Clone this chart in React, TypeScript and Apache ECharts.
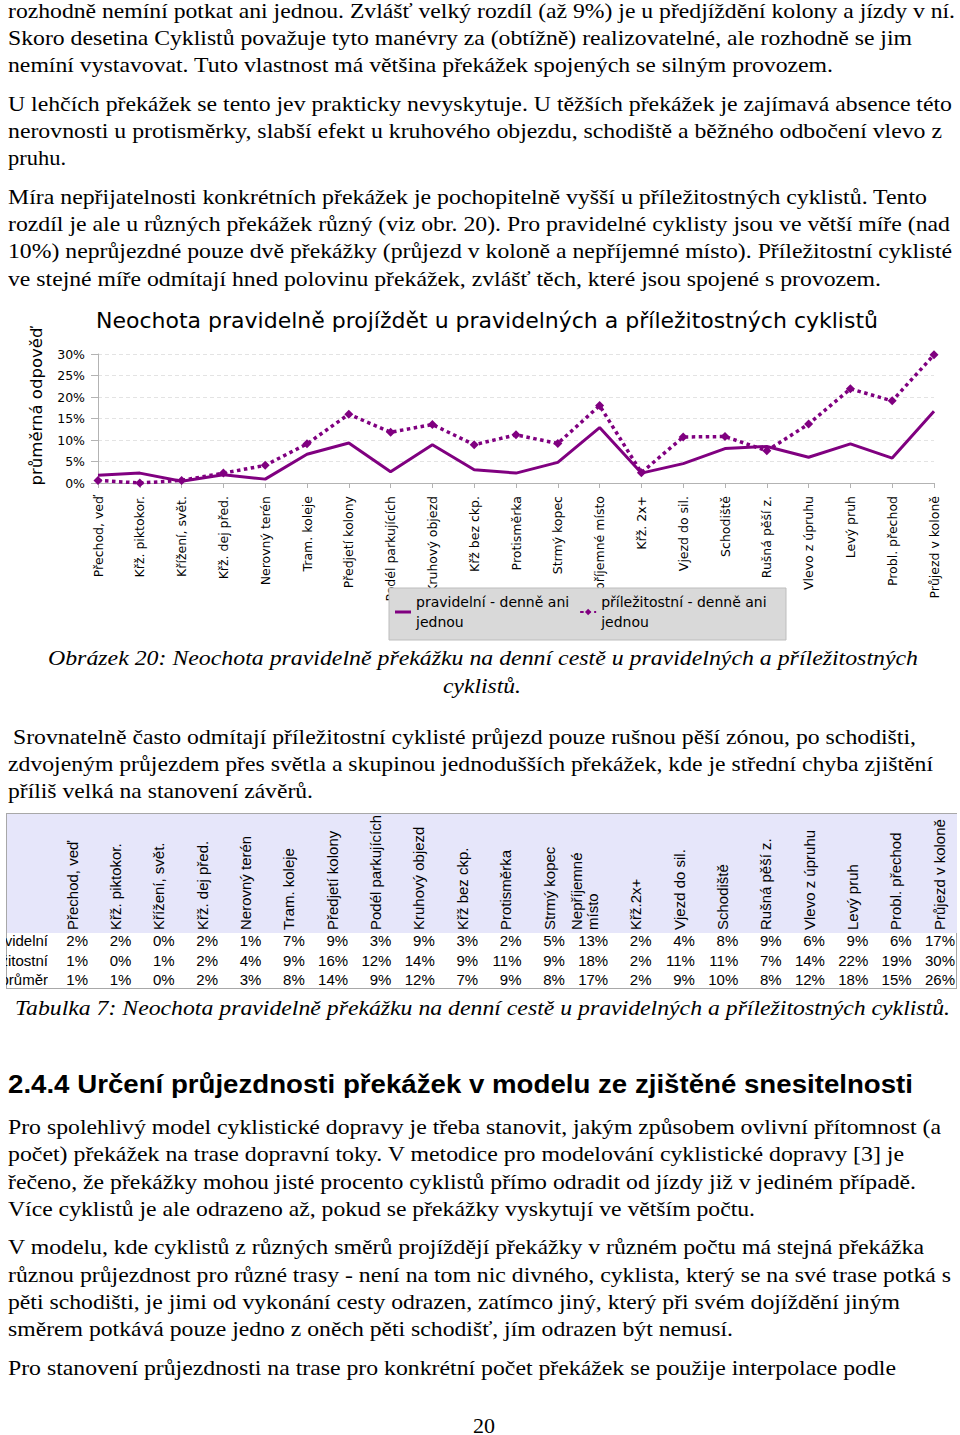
import React, { useEffect, useLayoutEffect, useRef } from "react";
import * as echarts from "echarts";

// ---------- DATA ----------
const chartTitle = "Neochota pravidelně projíždět u pravidelných a příležitostných cyklistů";
const yAxisName = "průměrná odpověď";
const categories = [
  "Přechod, veď", "Křž. piktokor.", "Křížení, svět.", "Křž. dej před.", "Nerovný terén",
  "Tram. koleje", "Předjetí kolony", "Podél parkujících", "Kruhový objezd", "Křž bez ckp.",
  "Protisměrka", "Strmý kopec", "Nepříjemné místo", "Křž. 2x+", "Vjezd do sil.",
  "Schodiště", "Rušná pěší z.", "Vlevo z úpruhu", "Levý pruh", "Probl. přechod", "Průjezd v koloně",
];
const seriesRegularName = "pravidelní - denně ani jednou";
const seriesOccasionalName = "příležitostní - denně ani jednou";
// values in %
const regularValues = [1.8, 2.3, 0.4, 1.9, 0.9, 6.7, 9.3, 2.6, 8.9, 3.1, 2.3, 4.8, 12.9, 2.3, 4.5, 8.0, 8.5, 6.0, 9.1, 5.8, 16.7];
const occasionalValues = [0.6, 0.0, 0.6, 2.3, 4.1, 9.1, 16.0, 11.8, 13.6, 8.9, 11.2, 9.2, 18.0, 2.4, 10.7, 10.8, 7.5, 13.7, 21.9, 19.1, 29.8];
const yMin = 0;
const yMax = 30;
const yStep = 5;

const tableHeaders = [
  "Přechod, veď", "Křž. piktokor.", "Křížení, svět.", "Křž. dej před.", "Nerovný terén",
  "Tram. koleje", "Předjetí kolony", "Podél parkujících", "Kruhový objezd", "Křž bez ckp.",
  "Protisměrka", "Strmý kopec", "Nepříjemné místo", "Křž.2x+", "Vjezd do sil.",
  "Schodiště", "Rušná pěší z.", "Vlevo z úpruhu", "Levý pruh", "Probl. přechod", "Průjezd v koloně",
];
const tableRowLabels = ["pravidelní", "příležitostní", "průměr"];
const tableRegular = [2, 2, 0, 2, 1, 7, 9, 3, 9, 3, 2, 5, 13, 2, 4, 8, 9, 6, 9, 6, 17];
const tableOccasional = [1, 0, 1, 2, 4, 9, 16, 12, 14, 9, 11, 9, 18, 2, 11, 11, 7, 14, 22, 19, 30];
const tableAverage = [1, 1, 0, 2, 3, 8, 14, 9, 12, 7, 9, 8, 17, 2, 9, 10, 8, 12, 18, 15, 26];

// ---------- PAGE TEXT ----------
type LineDef = { t: string; x1: number; x2: number; y: number; k?: "n" | "i" | "h" };
const pageLines: LineDef[] = [
  { t: "rozhodně nemíní potkat ani jednou. Zvlášť velký rozdíl (až 9%) je u předjíždění kolony a jízdy v ní.", x1: 8, x2: 955, y: 10 },
  { t: "Skoro desetina Cyklistů považuje tyto manévry za (obtížně) realizovatelné, ale rozhodně se jim", x1: 8, x2: 912, y: 37 },
  { t: "nemíní vystavovat. Tuto vlastnost má většina překážek spojených se silným provozem.", x1: 8, x2: 833, y: 64 },
  { t: "U lehčích překážek se tento jev prakticky nevyskytuje. U těžších překážek je zajímavá absence této", x1: 8, x2: 952, y: 103 },
  { t: "nerovnosti u protisměrky, slabší efekt u kruhového objezdu, schodiště a běžného odbočení vlevo z", x1: 8, x2: 942, y: 130 },
  { t: "pruhu.", x1: 8, x2: 66, y: 157 },
  { t: "Míra nepřijatelnosti konkrétních překážek je pochopitelně vyšší u příležitostných cyklistů. Tento", x1: 8, x2: 927, y: 196 },
  { t: "rozdíl je ale u různých překážek různý (viz obr. 20). Pro pravidelné cyklisty jsou ve větší míře (nad", x1: 8, x2: 950, y: 223 },
  { t: "10%) neprůjezdné pouze dvě překážky (průjezd v koloně a nepříjemné místo). Příležitostní cyklisté", x1: 8, x2: 952, y: 250 },
  { t: "ve stejné míře odmítají hned polovinu překážek, zvlášť těch, které jsou spojené s provozem.", x1: 8, x2: 881, y: 278 },
  { t: "Obrázek 20: Neochota pravidelně překážku na denní cestě u pravidelných a příležitostných", x1: 48, x2: 918, y: 657, k: "i" },
  { t: "cyklistů.", x1: 443, x2: 521, y: 685, k: "i" },
  { t: "Srovnatelně často odmítají příležitostní cyklisté průjezd pouze rušnou pěší zónou, po schodišti,", x1: 13, x2: 916, y: 736 },
  { t: "zdvojeným průjezdem přes světla a skupinou jednodušších překážek, kde je střední chyba zjištění", x1: 8, x2: 933, y: 763 },
  { t: "příliš velká na stanovení závěrů.", x1: 8, x2: 313, y: 790 },
  { t: "Tabulka 7: Neochota pravidelně překážku na denní cestě u pravidelných a příležitostných cyklistů.", x1: 15, x2: 950, y: 1007, k: "i" },
  { t: "2.4.4 Určení průjezdnosti překážek v modelu ze zjištěné snesitelnosti", x1: 8, x2: 913, y: 1084, k: "h" },
  { t: "Pro spolehlivý model cyklistické dopravy je třeba stanovit, jakým způsobem ovlivní přítomnost (a", x1: 8, x2: 941, y: 1126 },
  { t: "počet) překážek na trase dopravní toky. V metodice pro modelování cyklistické dopravy [3] je", x1: 8, x2: 904, y: 1153 },
  { t: "řečeno, že překážky mohou jisté procento cyklistů přímo odradit od jízdy již v jediném případě.", x1: 8, x2: 916, y: 1181 },
  { t: "Více cyklistů je ale odrazeno až, pokud se překážky vyskytují ve větším počtu.", x1: 8, x2: 755, y: 1208 },
  { t: "V modelu, kde cyklistů z různých směrů projíždějí překážky v různém počtu má stejná překážka", x1: 8, x2: 924, y: 1246 },
  { t: "různou průjezdnost pro různé trasy - není na tom nic divného, cyklista, který se na své trase potká s", x1: 8, x2: 951, y: 1274 },
  { t: "pěti schodišti, je jimi od vykonání cesty odrazen, zatímco jiný, který při svém dojíždění jiným", x1: 8, x2: 900, y: 1301 },
  { t: "směrem potkává pouze jedno z oněch pěti schodišť, jím odrazen být nemusí.", x1: 8, x2: 733, y: 1328 },
  { t: "Pro stanovení průjezdnosti na trase pro konkrétní počet překážek se použije interpolace podle", x1: 8, x2: 896, y: 1367 },
];
const pageNumber = "20";

function FitLine({ d }: { d: LineDef }) {
  const ref = useRef<HTMLSpanElement>(null);
  const lh = d.k === "h" ? 32 : 27;
  useLayoutEffect(() => {
    const el = ref.current;
    if (!el) return;
    el.style.transform = "none";
    const w = el.getBoundingClientRect().width;
    if (w > 0) el.style.transform = `scaleX(${(d.x2 - d.x1) / w})`;
  }, [d]);
  const font =
    d.k === "h"
      ? { fontFamily: "'Liberation Sans', Arial, sans-serif", fontWeight: 700, fontSize: 25 }
      : { fontFamily: "'Liberation Serif', 'Times New Roman', serif", fontStyle: d.k === "i" ? "italic" : "normal", fontSize: 22 };
  return (
    <span
      ref={ref}
      style={{
        position: "absolute",
        left: d.x1,
        top: d.y - lh / 2,
        lineHeight: lh + "px",
        whiteSpace: "pre",
        display: "inline-block",
        transformOrigin: "0 0",
        color: "#000",
        ...(font as any),
      }}
    >
      {d.t}
    </span>
  );
}

function Chart() {
  const ref = useRef<HTMLDivElement>(null);
  useEffect(() => {
    if (!ref.current) return;
    const chart = echarts.init(ref.current, undefined, { renderer: "svg" });
    const purple = "#800080";
    const font = "'DejaVu Sans', sans-serif";
    chart.setOption({
      animation: false,
      title: {
        text: chartTitle,
        left: 96,
        top: 9,
        padding: 0,
        textStyle: { fontFamily: font, fontSize: 22, fontWeight: "normal", color: "#000" },
      },
      grid: { left: 98, right: 26, top: 54, bottom: 162 },
      xAxis: {
        type: "category",
        data: categories,
        boundaryGap: false,
        axisLine: { lineStyle: { color: "#b3b3b3", width: 1 } },
        axisTick: { show: true, length: 5, lineStyle: { color: "#b3b3b3" } },
        axisLabel: { rotate: 90, interval: 0, margin: 13, fontFamily: font, fontSize: 12.5, color: "#000" },
      },
      yAxis: {
        type: "value",
        min: yMin,
        max: yMax,
        interval: yStep,
        name: yAxisName,
        nameLocation: "middle",
        nameRotate: 90,
        nameGap: 53,
        nameTextStyle: { fontFamily: font, fontSize: 16.5, color: "#000", padding: [0, 0, 0, 24] },
        axisLine: { show: true, lineStyle: { color: "#b3b3b3" } },
        axisTick: { show: true, length: 7, lineStyle: { color: "#b3b3b3" } },
        axisLabel: { formatter: "{value}%", margin: 13, fontFamily: font, fontSize: 12.5, color: "#000" },
        splitLine: { show: true, lineStyle: { color: "#e3e3e3", type: [4, 3] } },
      },
      legend: {
        left: 395,
        top: 282,
        padding: 0,
        itemGap: 10,
        itemWidth: 16,
        itemHeight: 8,
        formatter: (n: string) => n.replace(" jednou", "\njednou"),
        textStyle: { fontFamily: font, fontSize: 14, color: "#000", lineHeight: 20, padding: [20, 0, 0, 0] },
        data: [
          { name: seriesRegularName, icon: "path://M0,0h16v3h-16z" },
          { name: seriesOccasionalName },
        ],
      },
      graphic: [
        {
          type: "rect",
          z: 3,
          shape: { x: 389, y: 288, width: 397, height: 52 },
          style: { fill: "#d9d9d9", stroke: "#bdbdbd", lineWidth: 1 },
        },
      ],
      series: [
        {
          name: seriesRegularName,
          type: "line",
          data: regularValues,
          symbol: "none",
          lineStyle: { color: purple, width: 3 },
          itemStyle: { color: purple },
          z: 2,
        },
        {
          name: seriesOccasionalName,
          type: "line",
          data: occasionalValues,
          symbol: "diamond",
          symbolSize: 9,
          lineStyle: { color: purple, width: 3.5, type: [3.5, 3.5] },
          itemStyle: { color: purple },
          z: 2,
        },
      ],
    });
    return () => chart.dispose();
  }, []);
  return <div ref={ref} style={{ position: "absolute", left: 0, top: 300, width: 960, height: 345 }} />;
}

function DataTable() {
  const colW = 43.35;
  const firstRight = 88;
  const rowYs = [941, 961, 980];
  const rows = [tableRegular, tableOccasional, tableAverage];
  const sans = "'Liberation Sans', Arial, sans-serif";
  return (
    <>
      <div style={{ position: "absolute", left: 6, top: 813, width: 951, height: 176, border: "1px solid #a8a8a8", boxSizing: "border-box" as any }} />
      <div style={{ position: "absolute", left: 7, top: 814, width: 950, height: 119, background: "#e6e6fa" }} />
      {tableHeaders.map((h, i) => {
        const left = firstRight + colW * i - colW;
        return (
          <div
            key={"h" + i}
            style={{
              position: "absolute",
              left,
              top: 930,
              width: 117,
              height: colW,
              transform: "rotate(-90deg)",
              transformOrigin: "0 0",
              display: "flex",
              flexDirection: "column",
              justifyContent: "flex-end",
              boxSizing: "border-box" as any,
              paddingBottom: 7,
              fontFamily: sans,
              fontSize: 15,
              lineHeight: "16px",
              color: "#000",
            }}
          >
            <div>{h}</div>
          </div>
        );
      })}
      {rowYs.map((y, r) => (
        <React.Fragment key={"r" + r}>
          <div
            style={{
              position: "absolute",
              left: 6,
              top: y - 10,
              width: 42,
              height: 20,
              overflow: "hidden",
              display: "flex",
              justifyContent: "flex-end",
              fontFamily: sans,
              fontSize: 15,
              lineHeight: "20px",
              whiteSpace: "nowrap",
            }}
          >
            <span>{tableRowLabels[r]}</span>
          </div>
          {rows[r].map((v, i) => (
            <div
              key={"v" + r + "-" + i}
              style={{
                position: "absolute",
                left: firstRight + colW * i - colW,
                top: y - 10,
                width: colW,
                textAlign: "right",
                fontFamily: sans,
                fontSize: 15,
                lineHeight: "20px",
              }}
            >
              {v + "%"}
            </div>
          ))}
        </React.Fragment>
      ))}
    </>
  );
}

export default function App() {
  return (
    <div style={{ position: "absolute", left: 0, top: 0, width: 960, height: 1435, background: "#fff", overflow: "hidden" }}>
      {pageLines.map((d, i) => (
        <FitLine key={i} d={d} />
      ))}
      <Chart />
      <DataTable />
      <div
        style={{
          position: "absolute",
          left: 0,
          width: 960,
          top: 1425 - 13.5,
          lineHeight: "27px",
          textAlign: "center",
          fontFamily: "'Liberation Serif', serif",
          fontSize: 22,
          paddingLeft: 8,
          boxSizing: "border-box" as any,
        }}
      >
        {pageNumber}
      </div>
    </div>
  );
}
